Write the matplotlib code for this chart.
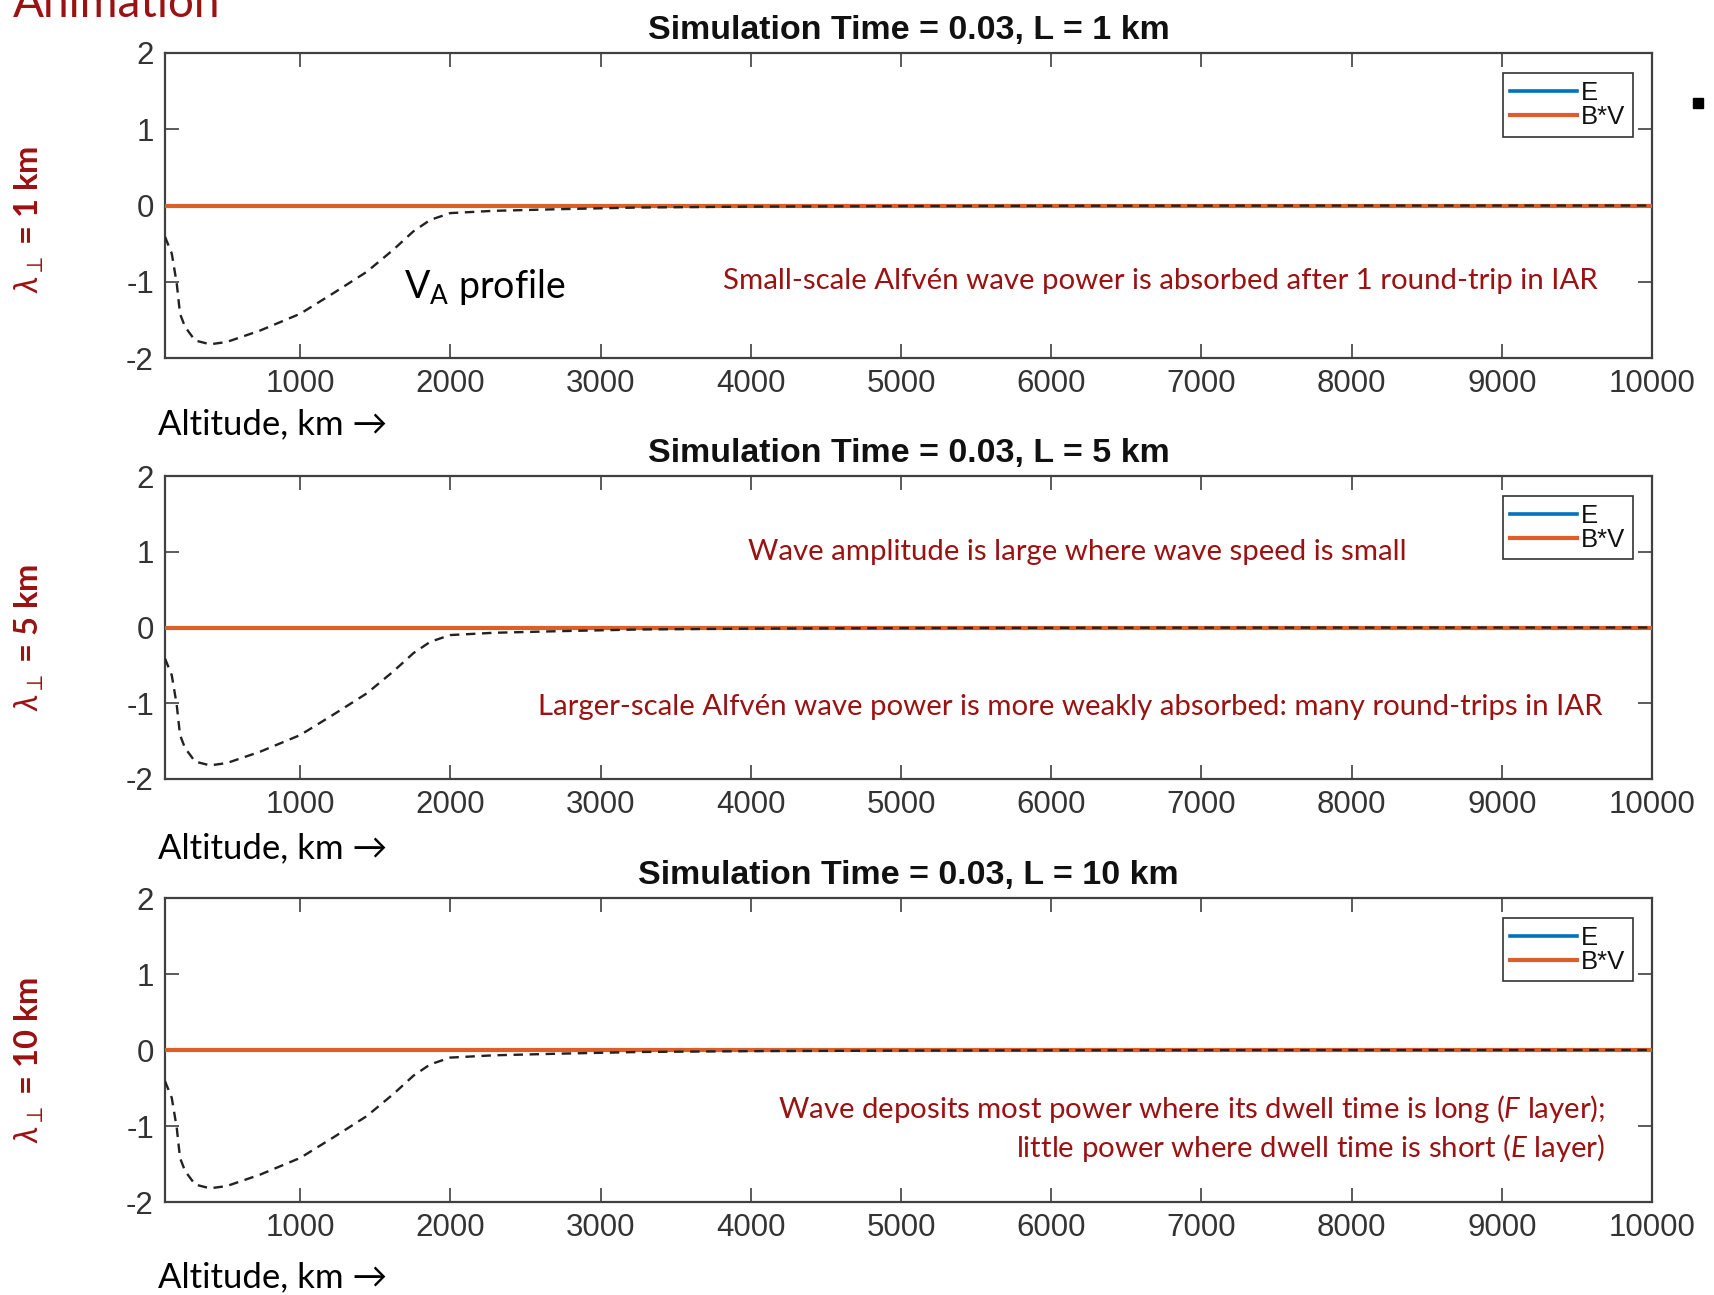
import matplotlib
matplotlib.use("Agg")
import matplotlib.pyplot as plt
from matplotlib.patches import Rectangle

# ---------------- data ----------------
alt_km = [100, 145, 178, 200, 233, 300, 400, 511, 733, 1000, 1221, 1443, 1620,
          1753, 1865, 1998, 2286, 2731, 3263, 4000, 5000, 6000, 7000, 8000, 10000]
va_profile = [-0.41, -0.63, -1.02, -1.42, -1.59, -1.77, -1.82, -1.79, -1.64, -1.42,
              -1.15, -0.87, -0.58, -0.34, -0.19, -0.10, -0.07, -0.048, -0.026,
              -0.015, -0.008, -0.004, -0.002, -0.001, 0.0]
field_alt = [100, 10000]
e_field = [0.0, 0.0]
bv_field = [0.0, 0.0]
panel_L = [1, 5, 10]
x_ticks = [1000, 2000, 3000, 4000, 5000, 6000, 7000, 8000, 9000, 10000]
y_ticks = [-2, -1, 0, 1, 2]
series_labels = ["E", "B*V"]

W, H = 1714, 1295
plt.rcParams["axes.unicode_minus"] = False
plt.rcParams["mathtext.fontset"] = "custom"
plt.rcParams["mathtext.rm"] = "Lato"
plt.rcParams["mathtext.it"] = "Lato:italic"
plt.rcParams["mathtext.bf"] = "Lato:bold"

fig = plt.figure(figsize=(W / 100, H / 100), dpi=100)
fig.patch.set_facecolor("white")

def fx(x):
    return x / W

def fy(y):
    return 1 - y / H

DARKRED = "#9A1212"
AXCOL = "#404040"
SLIDE = ["Lato", "DejaVu Sans"]
MAT = ["Liberation Sans", "DejaVu Sans"]

# axes rectangles in pixel coords: (top, bottom)
left_px, right_px = 165, 1652
panel_px = [(53, 358), (476, 779), (898, 1202)]

axes = []
for (top, bot), L in zip(panel_px, panel_L):
    ax = fig.add_axes([fx(left_px), fy(bot), (right_px - left_px) / W, (bot - top) / H])
    ax.plot(field_alt, e_field, color="#0072BD", lw=2.6, label=series_labels[0], zorder=2)
    ax.plot(field_alt, bv_field, color="#DC5F28", lw=3.0, label=series_labels[1], zorder=3)
    ax.plot(alt_km, va_profile, color="#222222", lw=1.7, ls=(0, (4.0, 2.8)), zorder=4)
    ax.set_xlim(100, 10000)
    ax.set_ylim(-2, 2)
    ax.set_xticks(x_ticks)
    ax.set_yticks(y_ticks)
    ax.tick_params(direction="in", length=10, width=1.2, color=AXCOL, top=True, right=True,
                   labelsize=22.5, labelcolor="#333333", pad=8)
    for lab in ax.get_xticklabels() + ax.get_yticklabels():
        lab.set_family(MAT)
    for s in ax.spines.values():
        s.set_color(AXCOL)
        s.set_linewidth(1.6)
    ax.set_title(f"Simulation Time = 0.03, L = {L} km", fontsize=24.5, fontweight="bold",
                 family=MAT, pad=10, color="#111111")
    leg = ax.legend(loc="upper right", bbox_to_anchor=(0.9872, 0.934), borderaxespad=0,
                    fancybox=False, edgecolor="#333333", framealpha=1,
                    prop={"family": MAT, "size": 18.5},
                    handlelength=2.6, handletextpad=0.15, labelspacing=0.0, borderpad=0.3)
    leg.get_frame().set_linewidth(1.2)
    for t in leg.get_texts():
        t.set_color("#111111")
    axes.append(ax)

# y-side labels
ylab_y = [219, 637, 1060]
for yy, L in zip(ylab_y, panel_L):
    fig.text(fx(29), fy(yy), r"$\lambda_{\perp}$" + f" = {L} km", rotation=90, ha="center",
             va="center", fontsize=23.5, fontweight="bold", color=DARKRED, family=SLIDE)

# altitude labels
alt_y = [424, 848, 1277]
for yy in alt_y:
    fig.text(fx(158), fy(yy), "Altitude, km \u2192", ha="left", va="center", fontsize=25,
             color="black", family=SLIDE)

# slide title, partly cut off as in the source slide
fig.text(fx(13), fy(17), "Animation", ha="left", va="baseline", fontsize=33,
         color=DARKRED, family=SLIDE)

# bullet square
fig.patches.append(Rectangle((fx(1693), fy(108)), 10 / W, 10 / H, transform=fig.transFigure,
                             color="black"))

# annotations
fs = 21.2
fig.text(fx(404), fy(287), r"V$_\mathrm{A}$ profile", ha="left", va="center", fontsize=27,
         color="black", family=SLIDE)
fig.text(fx(1160), fy(281), "Small-scale Alfvén wave power is absorbed after 1 round-trip in IAR",
         ha="center", va="center", fontsize=fs, color=DARKRED, family=SLIDE)
fig.text(fx(1077), fy(552), "Wave amplitude is large where wave speed is small",
         ha="center", va="center", fontsize=fs, color=DARKRED, family=SLIDE)
fig.text(fx(1070), fy(707),
         "Larger-scale Alfvén wave power is more weakly absorbed: many round-trips in IAR",
         ha="center", va="center", fontsize=fs, color=DARKRED, family=SLIDE)
fig.text(fx(1605), fy(1109),
         r"Wave deposits most power where its dwell time is long ($\mathit{F}$ layer);",
         ha="right", va="center", fontsize=fs, color=DARKRED, family=SLIDE)
fig.text(fx(1605), fy(1148),
         r"little power where dwell time is short ($\mathit{E}$ layer)",
         ha="right", va="center", fontsize=fs, color=DARKRED, family=SLIDE)

fig.savefig("out.png", dpi=100, facecolor="white")
